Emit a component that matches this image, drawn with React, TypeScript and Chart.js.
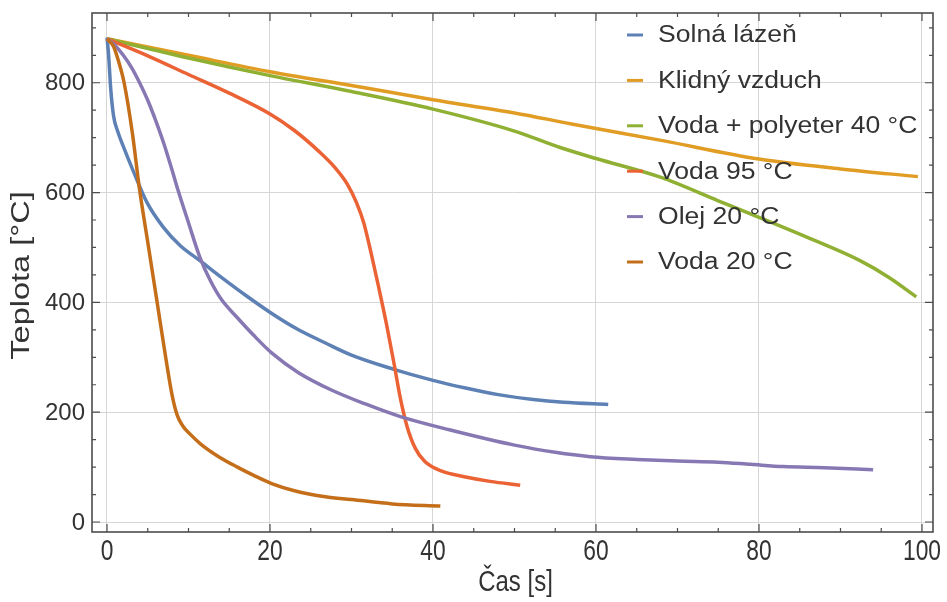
import { useEffect, useRef } from "react";
import { Chart, registerables } from "chart.js";

Chart.register(...registerables);

// Axis ticks
const xTicks = [0, 20, 40, 60, 80, 100];
const yTicks = [0, 200, 400, 600, 800];
const xMinorStep = 5;
const yMinorStep = 50;
const xTitle = "Čas [s]";
const yTitle = "Teplota [°C]";

// Series: time [s] and temperature [°C]
const seriesLabels = [
  "Solná lázeň",
  "Klidný vzduch",
  "Voda + polyeter 40 °C",
  "Voda 95 °C",
  "Olej 20 °C",
  "Voda 20 °C",
];

const solnaT = [0, 0.2, 0.45, 0.8, 1.3, 2.0, 3.2, 4.9, 6.9, 9, 11.4, 14, 17, 20.5, 23.5, 26.8, 30, 35, 40, 44, 48, 52.3, 56, 61.5];
const solnaV = [882, 850, 790, 740, 712, 684, 640, 582, 537, 503, 476, 446, 413, 377, 350, 326, 304, 279, 258, 244, 232, 223, 218, 214];

const vzduchT = [0, 10, 20, 30, 40, 50, 57, 68, 80, 90, 99.5];
const vzduchV = [880, 850, 820, 795, 769, 745, 725, 695, 661, 643, 629];

const polyeterT = [0, 10, 20, 30, 40, 50, 55.6, 60, 67.9, 75, 80, 86, 92.4, 96, 99.3];
const polyeterV = [880, 845, 813, 784, 752, 712, 682, 662, 628, 585, 555, 518, 476, 445, 410];

const voda95T = [0, 5, 10, 15, 20, 23, 26, 28, 29.5, 30.6, 31.5, 32.4, 33.3, 34.3, 35.2, 36, 36.8, 37.8, 39, 41, 44, 47, 50.7];
const voda95V = [880, 849, 815, 781, 743, 713, 675, 645, 615, 582, 545, 490, 430, 360, 290, 225, 175, 135, 110, 93, 82, 74, 67];

const olejT = [0, 1, 2, 3, 4, 5, 6, 7, 8, 8.7, 10, 11.4, 12.6, 14, 16, 18, 20.2, 23.5, 27.6, 31.7, 36, 42, 50, 55, 59.3, 65, 70, 75, 79, 83, 88, 94];
const olejV = [880, 868, 850, 828, 800, 768, 730, 688, 640, 605, 545, 482, 442, 406, 372, 340, 308, 272, 240, 215, 192, 168, 140, 127, 119, 114, 111, 109, 105, 101, 99, 95];

const voda20T = [0, 0.8, 1.4, 2.1, 3.1, 4.0, 5, 6.1, 7.2, 8.0, 8.6, 9.3, 10.2, 11.5, 13.7, 16, 18, 20.2, 23, 26.8, 30, 35, 40.9];
const voda20V = [880, 866, 840, 800, 710, 605, 510, 405, 300, 230, 195, 175, 160, 142, 119, 100, 85, 70, 57, 46, 41, 33, 29];

const seriesT = [solnaT, vzduchT, polyeterT, voda95T, olejT, voda20T];
const seriesV = [solnaV, vzduchV, polyeterV, voda95V, olejV, voda20V];
const seriesColors = ["#5E81B5", "#E19C24", "#8FB032", "#EB6235", "#8778B3", "#C56E1A"];

const FONT = "'Liberation Sans', Arial, sans-serif";
const FRAME = "#4d4d4d";
const TEXT = "#333333";

// Text drawn with a horizontal scale factor around (x, y)
function stretchedText(ctx: CanvasRenderingContext2D, text: string, x: number, y: number, sx: number) {
  ctx.save();
  ctx.translate(x, y);
  ctx.scale(sx, 1);
  ctx.fillText(text, 0, 0);
  ctx.restore();
}

// Frame with inward ticks on all four sides, plus axis labels and titles
const framePlugin = {
  id: "frameTicks",
  afterDraw(chart: any) {
    const { ctx, chartArea: a, scales } = chart;
    const xs = scales.x;
    const ys = scales.y;
    ctx.save();
    ctx.strokeStyle = FRAME;
    ctx.lineWidth = 1.6;
    ctx.strokeRect(a.left, a.top, a.right - a.left, a.bottom - a.top);
    ctx.lineWidth = 1.2;
    ctx.beginPath();
    for (let v = xTicks[0]; v <= xTicks[xTicks.length - 1] + 1e-9; v += xMinorStep) {
      const px = xs.getPixelForValue(v);
      const len = xTicks.includes(v) ? 8 : 4;
      ctx.moveTo(px, a.bottom);
      ctx.lineTo(px, a.bottom - len);
      ctx.moveTo(px, a.top);
      ctx.lineTo(px, a.top + len);
    }
    for (let v = yTicks[0]; v <= ys.max; v += yMinorStep) {
      const py = ys.getPixelForValue(v);
      const len = yTicks.includes(v) ? 8 : 4;
      ctx.moveTo(a.left, py);
      ctx.lineTo(a.left + len, py);
      ctx.moveTo(a.right, py);
      ctx.lineTo(a.right - len, py);
    }
    ctx.stroke();

    ctx.fillStyle = TEXT;
    ctx.textBaseline = "middle";

    // y tick labels
    ctx.textAlign = "right";
    ctx.font = `24px ${FONT}`;
    yTicks.forEach((v) => {
      ctx.fillText(String(v), a.left - 7, ys.getPixelForValue(v) + 1);
    });

    ctx.textAlign = "center";
    // x tick labels (condensed)
    ctx.font = `30px ${FONT}`;
    xTicks.forEach((v) => {
      stretchedText(ctx, String(v), xs.getPixelForValue(v), a.bottom + 20, 0.76);
    });
    // x title
    stretchedText(ctx, xTitle, (a.left + a.right) / 2 + 3, 583, 0.8);

    // y title, rotated
    ctx.save();
    ctx.translate(22, (a.top + a.bottom) / 2 + 3);
    ctx.rotate(-Math.PI / 2);
    ctx.font = `25px ${FONT}`;
    stretchedText(ctx, yTitle, 0, 0, 1.3);
    ctx.restore();

    ctx.restore();
  },
};

// Legend drawn inside the plot, top right
const legendPlugin = {
  id: "insideLegend",
  afterDraw(chart: any) {
    const { ctx, chartArea: a } = chart;
    const x0 = a.right - 306;
    const y0 = a.top + 22;
    const rowH = 45.4;
    ctx.save();
    ctx.font = `23.5px ${FONT}`;
    ctx.textBaseline = "middle";
    ctx.textAlign = "left";
    ctx.fillStyle = TEXT;
    chart.data.datasets.forEach((ds: any, i: number) => {
      const y = y0 + i * rowH;
      ctx.strokeStyle = ds.borderColor;
      ctx.lineWidth = 3;
      ctx.beginPath();
      ctx.moveTo(x0, y);
      ctx.lineTo(x0 + 16, y);
      ctx.stroke();
      stretchedText(ctx, ds.label, x0 + 31, y + 1, 1.13);
    });
    ctx.restore();
  },
};

export default function App() {
  const ref = useRef<HTMLCanvasElement | null>(null);

  useEffect(() => {
    if (!ref.current) return;
    const datasets = seriesLabels.map((label, i) => ({
      label,
      data: seriesT[i].map((t, k) => ({ x: t, y: seriesV[i][k] })),
      borderColor: seriesColors[i],
      backgroundColor: seriesColors[i],
      borderWidth: 3.5,
      pointRadius: 0,
      cubicInterpolationMode: "monotone" as const,
      fill: false,
      order: seriesLabels.length - i,
    }));

    const chart = new Chart(ref.current, {
      type: "line",
      data: { datasets },
      options: {
        animation: false,
        responsive: false,
        maintainAspectRatio: false,
        layout: { padding: { top: 13, right: 14, left: 0, bottom: 0 } },
        plugins: { legend: { display: false }, tooltip: { enabled: false } },
        scales: {
          x: {
            type: "linear",
            min: -1.84,
            max: 101.35,
            afterBuildTicks: (s: any) => {
              s.ticks = xTicks.map((v) => ({ value: v }));
            },
            afterFit: (s: any) => {
              s.height = 70;
            },
            grid: { color: "#d6d6d6", lineWidth: 1, drawTicks: false },
            border: { display: false },
            ticks: { display: false },
          },
          y: {
            type: "linear",
            min: -18.2,
            max: 927,
            afterBuildTicks: (s: any) => {
              s.ticks = yTicks.map((v) => ({ value: v }));
            },
            afterFit: (s: any) => {
              s.width = 92;
            },
            grid: { color: "#d6d6d6", lineWidth: 1, drawTicks: false },
            border: { display: false },
            ticks: { display: false },
          },
        },
      },
      plugins: [framePlugin, legendPlugin],
    });
    return () => chart.destroy();
  }, []);

  return (
    <div style={{ position: "fixed", left: 0, top: 0, width: 947, height: 602, background: "#ffffff" }}>
      <canvas ref={ref} width={947} height={602} />
    </div>
  );
}
